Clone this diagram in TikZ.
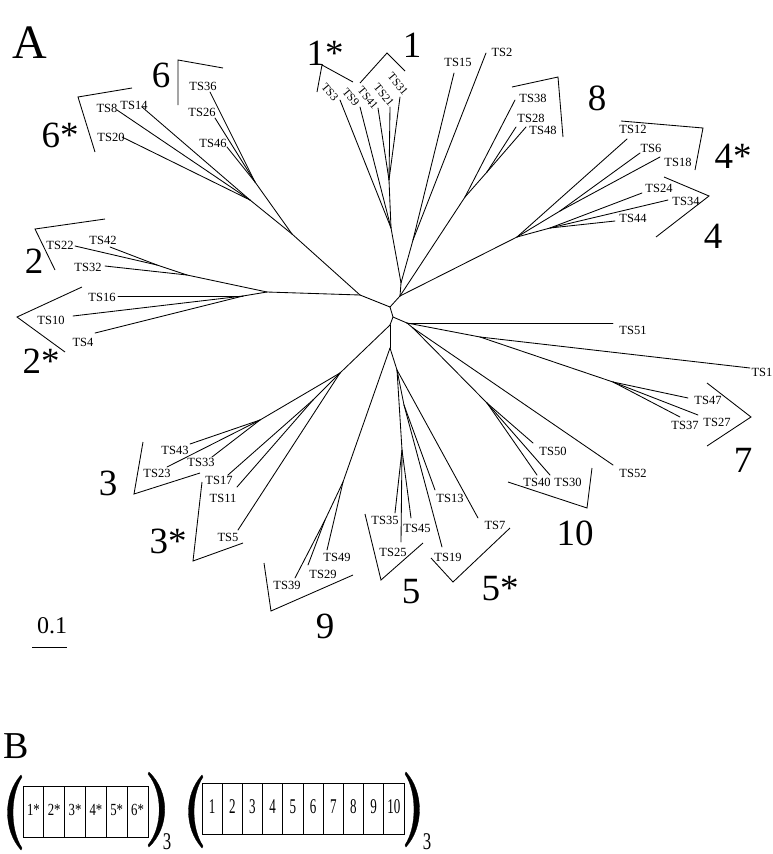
\documentclass[tikz,border=0pt]{standalone}
\usepackage{fontspec}
\setmainfont{Liberation Serif}
\begin{document}
\begin{tikzpicture}[x=1pt,y=-1pt,
  edge/.style={line width=0.85pt, line cap=round},
  brk/.style={line width=0.85pt, line join=miter},
  leaf/.style={font=\fontsize{12.5}{13}\selectfont, inner sep=0pt},
  rleaf/.style={font=\fontsize{11.5}{12}\selectfont, inner sep=0pt, rotate=-50},
  grp/.style={font=\fontsize{37}{37}\selectfont, inner sep=0pt, anchor=base},
  boxline/.style={line width=0.7pt},
  celltxt/.style={inner sep=0pt},
  par/.style={fill=black, draw=black, line width=0.3pt}
]
\useasboundingbox (0,0) rectangle (772,854);
\fill[white] (0,0) rectangle (772,854);

% ---------- internal nodes ----------
\coordinate (c0) at (390,307);
\coordinate (cU) at (400,296);
\coordinate (cU1) at (401,283);
\coordinate (cL) at (360,295);
\coordinate (cD) at (393,317);
\coordinate (cR) at (407,323);
\coordinate (cR2) at (413,328);
\coordinate (cDn) at (390,325);
\coordinate (cD2) at (390,348);
\coordinate (n1) at (391,228);
\coordinate (n1n) at (389,180);
\coordinate (n15) at (413,240);
\coordinate (n8) at (465,197);
\coordinate (n8a) at (487,172);
\coordinate (n4) at (517,237);
\coordinate (n4s) at (560,211);
\coordinate (n4n) at (550,228);
\coordinate (n6all) at (292,234);
\coordinate (n6) at (255,182);
\coordinate (n6s) at (250,200);
\coordinate (n2all) at (267,292);
\coordinate (n2) at (187,275);
\coordinate (n2a) at (157,265);
\coordinate (n2s) at (243,296);
\coordinate (n71) at (480,337);
\coordinate (n7) at (613,382);
\coordinate (n10) at (487,403);
\coordinate (n3all) at (340,373);
\coordinate (n3) at (260,420);
\coordinate (n3s) at (313,400);
\coordinate (n9) at (343,482);
\coordinate (n9b) at (325,520);
\coordinate (n5all) at (397,370);
\coordinate (n5) at (402,450);
\coordinate (n5s) at (404,405);

% ---------- leaf ends ----------
\coordinate (l3) at (340,100);  \coordinate (l9) at (360,107);
\coordinate (l41) at (378,108); \coordinate (l21) at (390,107);
\coordinate (l31) at (400,97);
\coordinate (l15) at (454,73);  \coordinate (l2) at (486,53);
\coordinate (l38) at (515,100); \coordinate (l28) at (516,127); \coordinate (l48) at (526,127);
\coordinate (l12) at (627,139); \coordinate (l6) at (640,153);  \coordinate (l18) at (660,157);
\coordinate (l24) at (642,193); \coordinate (l34) at (668,200); \coordinate (l44) at (615,221);
\coordinate (l36) at (210,92);  \coordinate (l26) at (215,118); \coordinate (l46) at (227,147);
\coordinate (l8) at (117,110);  \coordinate (l14) at (142,107); \coordinate (l20) at (122,137);
\coordinate (l22) at (75,246);  \coordinate (l42) at (110,247); \coordinate (l32) at (105,266);
\coordinate (l16) at (118,296); \coordinate (l10) at (73,316);  \coordinate (l4) at (95,333);
\coordinate (l51) at (613,323); \coordinate (l1) at (750,368);
\coordinate (l47) at (688,398); \coordinate (l27) at (698,415); \coordinate (l37) at (680,417);
\coordinate (l50) at (533,443); \coordinate (l40) at (537,475); \coordinate (l30) at (550,475);
\coordinate (l52) at (613,465);
\coordinate (l43) at (190,444); \coordinate (l33) at (212,457); \coordinate (l23) at (167,467);
\coordinate (l17) at (228,475); \coordinate (l11) at (237,487); \coordinate (l5) at (238,530);
\coordinate (l39) at (295,578); \coordinate (l29) at (308,565); \coordinate (l49) at (327,550);
\coordinate (l35) at (395,513); \coordinate (l25) at (401,542); \coordinate (l45) at (411,518);
\coordinate (l13) at (435,490); \coordinate (l19) at (442,547); \coordinate (l7) at (478,518);

% ---------- edges ----------
\draw[edge] (c0) -- (cU);  \draw[edge] (c0) -- (cL);  \draw[edge] (c0) -- (cD);
\draw[edge] (cU) -- (cU1); \draw[edge] (cU1) -- (n1); \draw[edge] (cU1) -- (n15);
\draw[edge] (n1) -- (l3);  \draw[edge] (n1) -- (l9);  \draw[edge] (n1) -- (n1n);
\draw[edge] (n1n) -- (l41); \draw[edge] (n1n) -- (l21); \draw[edge] (n1n) -- (l31);
\draw[edge] (n15) -- (l15); \draw[edge] (n15) -- (l2);
\draw[edge] (cU) -- (n8);  \draw[edge] (n8) -- (l38); \draw[edge] (n8) -- (n8a);
\draw[edge] (n8a) -- (l28); \draw[edge] (n8a) -- (l48);
\draw[edge] (cU) -- (n4);  \draw[edge] (n4) -- (l12); \draw[edge] (n4) -- (n4s);
\draw[edge] (n4s) -- (l6); \draw[edge] (n4s) -- (l18);
\draw[edge] (n4) -- (n4n); \draw[edge] (n4n) -- (l24); \draw[edge] (n4n) -- (l34); \draw[edge] (n4n) -- (l44);
\draw[edge] (cL) -- (n6all); \draw[edge] (n6all) -- (n6); \draw[edge] (n6all) -- (n6s);
\draw[edge] (n6) -- (l36); \draw[edge] (n6) -- (l26); \draw[edge] (n6) -- (l46);
\draw[edge] (n6s) -- (l8); \draw[edge] (n6s) -- (l14); \draw[edge] (n6s) -- (l20);
\draw[edge] (cL) -- (n2all); \draw[edge] (n2all) -- (n2); \draw[edge] (n2all) -- (n2s);
\draw[edge] (n2) -- (l32); \draw[edge] (n2) -- (n2a);
\draw[edge] (n2a) -- (l22); \draw[edge] (n2a) -- (l42);
\draw[edge] (n2s) -- (l16); \draw[edge] (n2s) -- (l10); \draw[edge] (n2s) -- (l4);
\draw[edge] (cD) -- (cR); \draw[edge] (cR) -- (l51); \draw[edge] (cR) -- (n71);
\draw[edge] (n71) -- (l1); \draw[edge] (n71) -- (n7);
\draw[edge] (n7) -- (l47); \draw[edge] (n7) -- (l27); \draw[edge] (n7) -- (l37);
\draw[edge] (cR) -- (cR2); \draw[edge] (cR2) -- (l52); \draw[edge] (cR2) -- (n10);
\draw[edge] (n10) -- (l50); \draw[edge] (n10) -- (l40); \draw[edge] (n10) -- (l30);
\draw[edge] (cD) -- (cDn); \draw[edge] (cDn) -- (n3all); \draw[edge] (cDn) -- (cD2);
\draw[edge] (n3all) -- (n3); \draw[edge] (n3all) -- (n3s); \draw[edge] (n3all) -- (l5);
\draw[edge] (n3) -- (l43); \draw[edge] (n3) -- (l33); \draw[edge] (n3) -- (l23);
\draw[edge] (n3s) -- (l17); \draw[edge] (n3s) -- (l11);
\draw[edge] (cD2) -- (n9); \draw[edge] (n9) -- (l49); \draw[edge] (n9) -- (n9b);
\draw[edge] (n9b) -- (l39); \draw[edge] (n9b) -- (l29);
\draw[edge] (cD2) -- (n5all); \draw[edge] (n5all) -- (n5); \draw[edge] (n5all) -- (n5s); \draw[edge] (n5all) -- (l7);
\draw[edge] (n5) -- (l35); \draw[edge] (n5) -- (l25); \draw[edge] (n5) -- (l45);
\draw[edge] (n5s) -- (l13); \draw[edge] (n5s) -- (l19);

% ---------- leaf labels ----------
\node[rleaf] (tTS3) at (330,92) {TS3};
\node[rleaf] (tTS9) at (351,97) {TS9};
\node[rleaf] (tTS41) at (368,98) {TS41};
\node[rleaf] (tTS21) at (384,95) {TS21};
\node[rleaf] (tTS31) at (398,84) {TS31};
\node[leaf] (tTS15) at (458,62) {TS15};
\node[leaf] (tTS2) at (502,52) {TS2};
\node[leaf] (tTS38) at (533,98) {TS38};
\node[leaf] (tTS28) at (531,118) {TS28};
\node[leaf] (tTS48) at (543,130) {TS48};
\node[leaf] (tTS12) at (633,129) {TS12};
\node[leaf] (tTS6) at (651,148) {TS6};
\node[leaf] (tTS18) at (678,162) {TS18};
\node[leaf] (tTS24) at (659,188) {TS24};
\node[leaf] (tTS34) at (686,201) {TS34};
\node[leaf] (tTS44) at (633,218) {TS44};
\node[leaf] (tTS36) at (203,86) {TS36};
\node[leaf] (tTS26) at (202,112) {TS26};
\node[leaf] (tTS46) at (213,143) {TS46};
\node[leaf] (tTS8) at (107,108) {TS8};
\node[leaf] (tTS14) at (134,105) {TS14};
\node[leaf] (tTS20) at (111,137) {TS20};
\node[leaf] (tTS22) at (60,245) {TS22};
\node[leaf] (tTS42) at (103,240) {TS42};
\node[leaf] (tTS32) at (88,267) {TS32};
\node[leaf] (tTS16) at (102,297) {TS16};
\node[leaf] (tTS10) at (51,320) {TS10};
\node[leaf] (tTS4) at (83,342) {TS4};
\node[leaf] (tTS51) at (633,330) {TS51};
\node[leaf] (tTS1) at (762,372) {TS1};
\node[leaf] (tTS47) at (708,400) {TS47};
\node[leaf] (tTS27) at (717,422) {TS27};
\node[leaf] (tTS37) at (685,425) {TS37};
\node[leaf] (tTS50) at (553,451) {TS50};
\node[leaf] (tTS40) at (537,482) {TS40};
\node[leaf] (tTS30) at (568,482) {TS30};
\node[leaf] (tTS52) at (633,473) {TS52};
\node[leaf] (tTS43) at (175,450) {TS43};
\node[leaf] (tTS33) at (201,462) {TS33};
\node[leaf] (tTS23) at (157,473) {TS23};
\node[leaf] (tTS17) at (219,480) {TS17};
\node[leaf] (tTS11) at (223,498) {TS11};
\node[leaf] (tTS5) at (228,537) {TS5};
\node[leaf] (tTS39) at (287,585) {TS39};
\node[leaf] (tTS29) at (323,574) {TS29};
\node[leaf] (tTS49) at (337,557) {TS49};
\node[leaf] (tTS35) at (385,520) {TS35};
\node[leaf] (tTS45) at (417,528) {TS45};
\node[leaf] (tTS25) at (393,552) {TS25};
\node[leaf] (tTS19) at (448,557) {TS19};
\node[leaf] (tTS13) at (450,498) {TS13};
\node[leaf] (tTS7) at (495,525) {TS7};

% ---------- group brackets ----------
\draw[brk] (317,92) -- (322,65) -- (353,82);
\draw[brk] (360,83) -- (387,53) -- (405,71);
\draw[brk] (178,105) -- (178,60) -- (223,68);
\draw[brk] (95,152) -- (78,97) -- (132,88);
\draw[brk] (55,270) -- (35,229) -- (105,219);
\draw[brk] (82,287) -- (17,317) -- (65,352);
\draw[brk] (512,87) -- (558,77) -- (563,137);
\draw[brk] (621,121) -- (703,128) -- (695,170);
\draw[brk] (664,177) -- (709,196) -- (656,237);
\draw[brk] (707,383) -- (751,417) -- (707,446);
\draw[brk] (508,482) -- (587,508) -- (592,468);
\draw[brk] (143,442) -- (134,494) -- (200,473);
\draw[brk] (202,482) -- (193,561) -- (243,543);
\draw[brk] (264,563) -- (271,611) -- (353,575);
\draw[brk] (365,514) -- (381,580) -- (423,543);
\draw[brk] (431,558) -- (453,582) -- (510,528);

% ---------- group labels ----------
\node[grp] (g1s) at (325,65) {1*};
\node[grp] (g1) at (412,57) {1};
\node[grp] (g6) at (161,87) {6};
\node[grp] (g6s) at (60,147) {6*};
\node[grp] (g2) at (34,273) {2};
\node[grp] (g2s) at (41,373) {2*};
\node[grp] (g8) at (597,110) {8};
\node[grp] (g4s) at (733,168) {4*};
\node[grp] (g4) at (713,248) {4};
\node[grp] (g7) at (743,472) {7};
\node[grp] (g10) at (575,545) {10};
\node[grp] (g3) at (108,495) {3};
\node[grp] (g3s) at (168,553) {3*};
\node[grp] (g9) at (325,638) {9};
\node[grp] (g5) at (411,603) {5};
\node[grp] (g5s) at (500,600) {5*};

% ---------- panel letters and scale ----------
\node[font=\fontsize{48}{48}\selectfont, inner sep=0pt, anchor=base] (lA) at (30,58) {A};
\node[font=\fontsize{24}{24}\selectfont, inner sep=0pt, anchor=base] (sc) at (52,633) {0.1};
\coordinate (scL) at (32,647); \coordinate (scR) at (67,647);
\draw[line width=0.9pt] (scL) -- (scR);
\node[font=\fontsize{38}{38}\selectfont, inner sep=0pt, anchor=base] (lB) at (16,758) {B};

% ---------- panel B ----------
\draw[boxline] (23,786) rectangle (148,837);
\foreach \i in {1,...,5}{
  \draw[boxline] ({23+20.83*\i},786) -- ({23+20.83*\i},837);
}
\foreach \t [count=\i] in {1*,2*,3*,4*,5*,6*}{
  \node[celltxt] (a\i) at ({23+20.83*(\i-0.5)},810) {\scalebox{0.75}[1]{\fontsize{17}{17}\selectfont \t}};
}
\draw[boxline] (202,783) rectangle (404,834);
\foreach \i in {1,...,9}{
  \draw[boxline] ({202+20.2*\i},783) -- ({202+20.2*\i},834);
}
\foreach \t [count=\i] in {1,2,3,4,5,6,7,8,9,10}{
  \node[celltxt] (b\i) at ({202+20.2*(\i-0.5)},807) {\scalebox{0.62}[1]{\fontsize{21}{21}\selectfont \t}};
}
% parentheses
\path[par] (21,775) .. controls (3,795) and (3,830) .. (21,850) -- (22,848) .. controls (10,830) and (10,795) .. (22,777) -- cycle;
\path[par] (149,772) .. controls (170,792) and (170,827) .. (149,847) -- (148,845) .. controls (163,827) and (163,792) .. (148,774) -- cycle;
\path[par] (202,775) .. controls (184,795) and (184,828) .. (202,848) -- (203,846) .. controls (191,828) and (191,795) .. (203,777) -- cycle;
\path[par] (406,772) .. controls (424,792) and (424,827) .. (406,847) -- (405,845) .. controls (417,827) and (417,792) .. (405,774) -- cycle;
\node[inner sep=0pt, anchor=base] (s1) at (167,849) {\scalebox{0.7}[1]{\fontsize{24}{24}\selectfont 3}};
\node[inner sep=0pt, anchor=base] (s2) at (427,849) {\scalebox{0.7}[1]{\fontsize{24}{24}\selectfont 3}};
\end{tikzpicture}
\end{document}
